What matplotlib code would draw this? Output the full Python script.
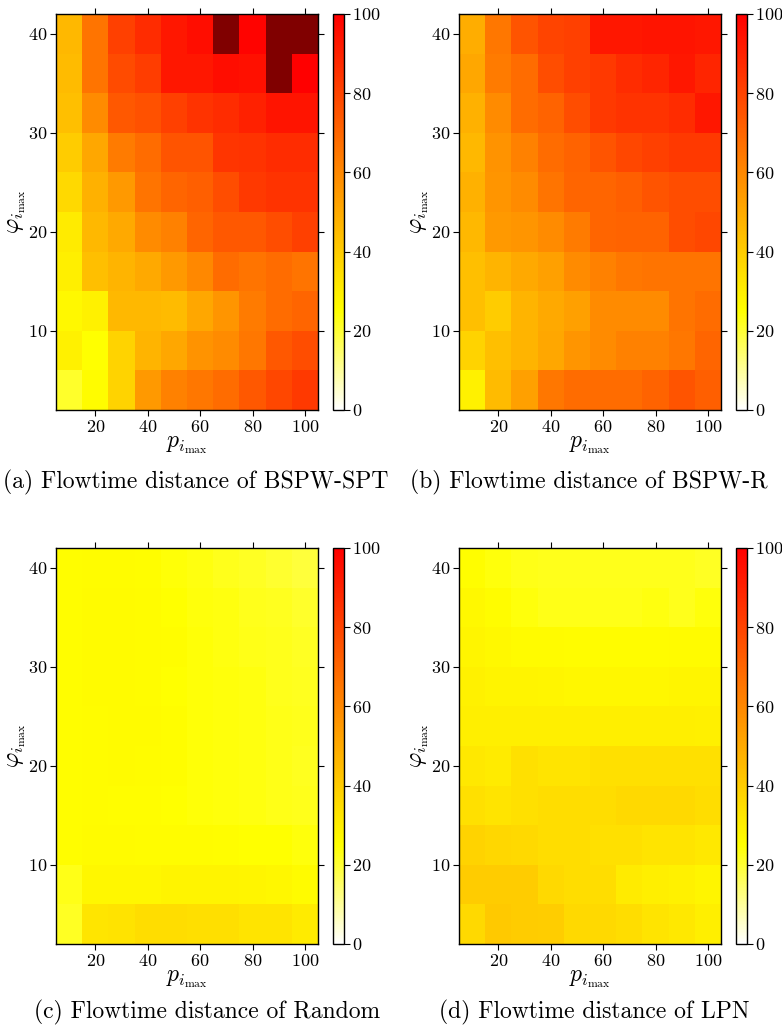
import numpy as np
import matplotlib
matplotlib.use('Agg')
import matplotlib.pyplot as plt
from matplotlib.colors import LinearSegmentedColormap, Normalize

plt.rcParams['font.family'] = 'serif'
plt.rcParams['font.serif'] = ['cmr10']
plt.rcParams['mathtext.fontset'] = 'cm'
plt.rcParams['axes.formatter.use_mathtext'] = True

# grid: p_i_max (columns) x phi_i_max (rows), rows listed from top (40) down to 4
p_max = [10, 20, 30, 40, 50, 60, 70, 80, 90, 100]
phi_max = [40, 36, 32, 28, 24, 20, 16, 12, 8, 4]

# flowtime distance (%)
dist_spt = [
    [46, 66, 81, 87, 93, 96, 110, 99, 110, 110],
    [45, 66, 78, 82, 93, 93, 96, 95, 110, 100],
    [44, 59, 74, 76, 81, 85, 87, 90, 94, 94],
    [40, 51, 64, 68, 75, 75, 84, 85, 87, 87],
    [36, 48, 55, 66, 70, 72, 77, 83, 85, 85],
    [31, 46, 50, 59, 62, 70, 74, 74, 77, 81],
    [30, 44, 47, 50, 55, 60, 68, 66, 68, 66],
    [27, 29, 46, 46, 45, 51, 56, 64, 68, 70],
    [29, 25, 38, 47, 51, 57, 59, 65, 74, 77],
    [21, 26, 38, 55, 62, 65, 68, 74, 79, 83],
]
dist_r = [
    [49, 65, 75, 80, 81, 93, 93, 94, 94, 93],
    [51, 64, 68, 77, 81, 83, 87, 89, 93, 89],
    [48, 59, 68, 71, 77, 83, 85, 85, 87, 93],
    [46, 57, 62, 68, 71, 75, 79, 81, 83, 83],
    [48, 56, 59, 66, 70, 70, 72, 75, 77, 77],
    [46, 55, 56, 59, 64, 70, 71, 71, 77, 79],
    [44, 47, 50, 53, 59, 62, 65, 66, 66, 66],
    [44, 40, 47, 50, 53, 59, 59, 59, 66, 68],
    [38, 44, 47, 51, 56, 59, 62, 62, 65, 70],
    [29, 45, 53, 65, 68, 68, 68, 71, 75, 72],
]
dist_random = [
    [25.5, 26, 26, 25.5, 24.5, 23.5, 22.5, 21.5, 20.5, 19.5],
    [25.5, 26.5, 26.5, 26, 25, 24, 23.5, 22.5, 22, 21],
    [25.5, 26.5, 26.5, 26, 25.5, 24.5, 23.5, 23, 22.5, 21.5],
    [25.5, 26.5, 26.5, 26, 25, 24.5, 24, 23.5, 22.5, 22],
    [25.5, 26, 26.5, 26.5, 25.5, 24.5, 24, 23.5, 23, 22.5],
    [25.5, 26, 26.5, 26, 25.5, 24.5, 24, 23.5, 23, 22],
    [25.5, 26, 25.5, 25.5, 25, 24.5, 24, 23.5, 23, 22.5],
    [25.5, 26.5, 26.5, 26, 26, 26, 25.5, 25, 25, 24],
    [23, 27.5, 27.5, 27.5, 28.5, 28.5, 28.5, 28, 27.5, 26.5],
    [21.5, 32.5, 33.5, 35, 35, 34.5, 34.5, 33, 33, 31],
]
dist_lpn = [
    [25.5, 24, 23, 22.5, 22.5, 22.5, 22.5, 22.5, 22.5, 21.5],
    [27, 26, 24, 23, 23, 23, 23, 23.5, 22.5, 24],
    [28, 27, 26.5, 26.5, 26, 26, 26, 26, 26.5, 26.5],
    [29, 28.5, 28.5, 28, 27.5, 27.5, 27.5, 27.5, 28, 28],
    [30, 30, 30, 30, 30, 30, 30, 30, 30, 29.5],
    [32, 31, 34, 33, 33, 34, 34, 34, 34, 34],
    [34, 33, 34, 35, 35, 35, 36, 36, 36, 35],
    [38, 37, 36, 35, 35, 34, 34, 33, 33, 32],
    [40, 40, 40, 36, 35, 35, 31, 30, 29, 28],
    [36, 41, 40, 39.5, 36, 36, 35, 33, 32, 30],
]

captions = [
    '(a) Flowtime distance of BSPW-SPT',
    '(b) Flowtime distance of BSPW-R',
    '(c) Flowtime distance of Random',
    '(d) Flowtime distance of LPN',
]

cmap = LinearSegmentedColormap.from_list(
    'wyr', [(0.0, '#ffffff'), (0.25, '#ffff00'), (1.0, '#ff0000')])
cmap.set_over('#800000')
norm = Normalize(vmin=0, vmax=100)

W, H = 782, 1032
fig = plt.figure(figsize=(W / 100, H / 100), dpi=100)


def px_axes(left, top, right, bottom):
    return fig.add_axes([left / W, 1 - bottom / H, (right - left) / W, (bottom - top) / H])


def cell_edges(centers, step):
    c = np.sort(np.asarray(centers, dtype=float))
    return np.append(c - step / 2, c[-1] + step / 2)


def draw_panel(data, left, top, caption, cap_x, cap_y, cap_ha):
    ax = px_axes(left, top, left + 262, top + 396)
    cax = px_axes(left + 277, top, left + 288, top + 396)

    z = np.array(data, dtype=float)[::-1]  # rows bottom -> top
    xe = cell_edges(p_max, 10)
    ye = cell_edges(phi_max, 4)
    mesh = ax.pcolormesh(xe, ye, z, cmap=cmap, norm=norm, shading='flat')

    ax.set_xlim(xe[0], xe[-1])
    ax.set_ylim(ye[0], ye[-1])
    ax.set_xticks([20, 40, 60, 80, 100])
    ax.set_yticks([10, 20, 30, 40])
    ax.tick_params(direction='out', length=4.5, width=0.8, labelsize=13,
                   top=True, right=True, pad=2)
    for s in ax.spines.values():
        s.set_linewidth(1.0)
    ax.set_xlabel(r'$p_{i_{\max}}$', fontsize=17, labelpad=-1)
    ax.set_ylabel(r'$\varphi_{i_{\max}}$', fontsize=17, labelpad=0)

    cb = fig.colorbar(mesh, cax=cax)
    cb.set_ticks([0, 20, 40, 60, 80, 100])
    cb.ax.tick_params(direction='out', length=4.5, width=0.8, labelsize=13, pad=1)
    cb.outline.set_linewidth(1.0)

    fig.text(cap_x / W, 1 - cap_y / H, caption, fontsize=17,
             ha=cap_ha, va='center')


draw_panel(dist_spt, 56, 14, captions[0], 196, 482, 'center')
draw_panel(dist_r, 459, 14, captions[1], 410, 482, 'left')
draw_panel(dist_random, 56, 548, captions[2], 207, 1012, 'center')
draw_panel(dist_lpn, 459, 548, captions[3], 594, 1012, 'center')

fig.savefig('out.png', dpi=100)
